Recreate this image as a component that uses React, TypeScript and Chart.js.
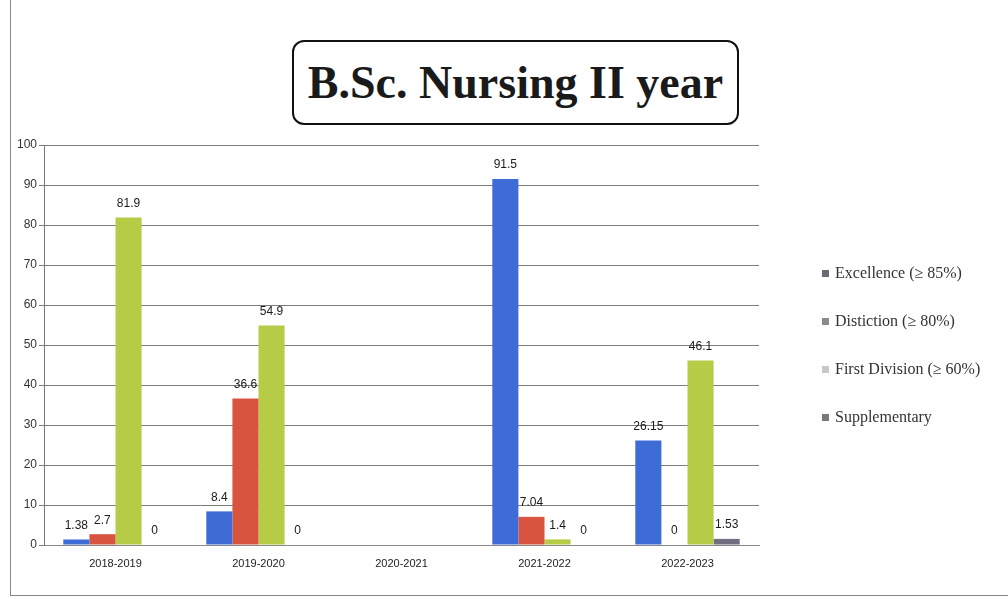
import React, { useEffect, useRef } from "react";
import { Chart, registerables } from "chart.js";

Chart.register(...registerables);

const categories = ["2018-2019", "2019-2020", "2020-2021", "2021-2022", "2022-2023"];
const excellence = [1.38, 8.4, null, 91.5, 26.15];
const distiction = [2.7, 36.6, null, 7.04, 0];
const firstDivision = [81.9, 54.9, null, 1.4, 46.1];
const supplementary = [0, 0, null, 0, 1.53];
const yTicks = [0, 10, 20, 30, 40, 50, 60, 70, 80, 90, 100];

const seriesNames = [
  "Excellence (\u2265 85%)",
  "Distiction (\u2265 80%)",
  "First Division (\u2265 60%)",
  "Supplementary",
];
const barColors = ["#3d6cd6", "#d8543f", "#b6cc47", "#6f6f80"];
const legendColors = ["#6a6a72", "#8a8a8a", "#c8c8c8", "#7a7a7a"];

const labelPlugin = {
  id: "valueLabels",
  afterDatasetsDraw(chart: any) {
    const ctx = chart.ctx;
    ctx.save();
    ctx.font = "12px 'Liberation Sans', Arial, sans-serif";
    ctx.fillStyle = "#1a1a1a";
    ctx.textAlign = "center";
    ctx.textBaseline = "bottom";
    chart.data.datasets.forEach((ds: any, i: number) => {
      const meta = chart.getDatasetMeta(i);
      meta.data.forEach((bar: any, j: number) => {
        const v = ds.data[j];
        if (v === null || v === undefined) return;
        ctx.fillText(String(v), bar.x, bar.y - 8);
      });
    });
    ctx.restore();
  },
};

export default function App() {
  const ref = useRef<HTMLCanvasElement | null>(null);
  useEffect(() => {
    if (!ref.current) return;
    const data = [excellence, distiction, firstDivision, supplementary];
    const chart = new Chart(ref.current, {
      type: "bar",
      data: {
        labels: categories,
        datasets: data.map((d, i) => ({
          label: seriesNames[i],
          data: d as any,
          backgroundColor: barColors[i],
          borderWidth: 0,
          barPercentage: 1,
          categoryPercentage: 0.73,
        })),
      },
      options: {
        responsive: false,
        animation: false,
        layout: { padding: { left: 0, top: 145, right: 249, bottom: 0 } },
        plugins: {
          legend: { display: false },
          title: { display: false },
          tooltip: { enabled: false },
        },
        scales: {
          x: {
            grid: { display: false, drawTicks: false },
            border: { display: true, color: "#888", width: 1 },
            ticks: {
              color: "#222",
              font: { family: "'Liberation Sans', Arial, sans-serif", size: 11 },
              padding: 12,
            },
            afterFit: (s: any) => {
              s.height = 54;
            },
          },
          y: {
            min: 0,
            max: 100,
            afterBuildTicks: (s: any) => {
              s.ticks = yTicks.map((v) => ({ value: v }));
            },
            grid: { color: "#7d7d7d", lineWidth: 1, tickLength: 5 },
            border: { display: true, color: "#777", width: 1 },
            ticks: {
              color: "#333",
              font: { family: "'Liberation Sans', Arial, sans-serif", size: 12 },
              padding: 2,
            },
            afterFit: (s: any) => {
              s.width = 44;
            },
          },
        },
      },
      plugins: [labelPlugin],
    });
    return () => chart.destroy();
  }, []);

  return (
    <div
      style={{
        position: "fixed",
        left: 0,
        top: 0,
        width: 1008,
        height: 599,
        background: "#fff",
        overflow: "hidden",
      }}
    >
      <div
        style={{
          position: "absolute",
          left: 10,
          top: 0,
          width: 998,
          height: 595,
          borderLeft: "1px solid #888",
          borderBottom: "1px solid #888",
        }}
      />
      <div
        style={{
          position: "absolute",
          left: 292,
          top: 40,
          width: 443,
          height: 81,
          border: "2.5px solid #111",
          borderRadius: 12,
          display: "flex",
          alignItems: "center",
          justifyContent: "center",
          fontFamily: "'Liberation Serif', 'Times New Roman', serif",
          fontWeight: "bold",
          fontSize: 46,
          color: "#1a1a1a",
          whiteSpace: "nowrap",
        }}
      >
        B.Sc. Nursing II year
      </div>
      <canvas
        ref={ref}
        width={1008}
        height={599}
        style={{ position: "absolute", left: 0, top: 0, width: 1008, height: 599 }}
      />
      <div
        style={{
          position: "absolute",
          left: 822,
          top: 261,
          fontFamily: "'Liberation Serif', 'Times New Roman', serif",
          fontSize: 16,
          color: "#333",
        }}
      >
        {seriesNames.map((name, i) => (
          <div
            key={name}
            style={{ display: "flex", alignItems: "center", height: 24, marginBottom: 24 }}
          >
            <span
              style={{
                display: "inline-block",
                width: 7,
                height: 7,
                background: legendColors[i],
                marginRight: 6,
              }}
            />
            <span>{name}</span>
          </div>
        ))}
      </div>
    </div>
  );
}
